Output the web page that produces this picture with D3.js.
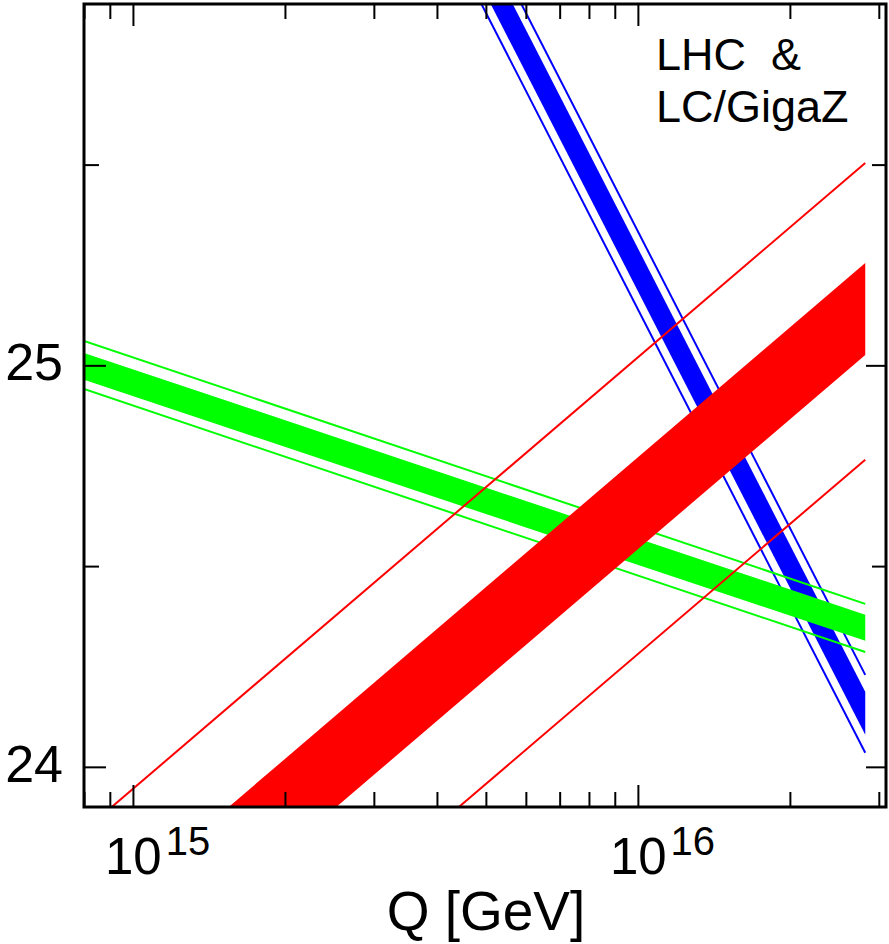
<!DOCTYPE html>
<html>
<head>
<meta charset="utf-8">
<script src="https://cdn.jsdelivr.net/npm/d3@7"></script>
<style>
  html, body { margin: 0; padding: 0; background: #fff; }
  text { font-family: "Liberation Sans", Arial, sans-serif; fill: #000; }
</style>
</head>
<body>
<div id="chart"></div>
<script>
const bandQ = [8e14, 2.82e16];

// 1/alpha values at bandQ ends: filled band (hi/lo) and outer lines (hi/lo)
const greenFillHi = [25.031, 24.379];
const greenFillLo = [24.964, 24.314];
const greenLineHi = [25.061, 24.406];
const greenLineLo = [24.941, 24.286];

const blueFillHi = [27.983, 24.187];
const blueFillLo = [27.876, 24.080];
const blueLineHi = [28.025, 24.229];
const blueLineLo = [27.831, 24.035];

const redFillHi = [23.592, 25.255];
const redFillLo = [23.363, 25.026];
const redLineHi = [23.841, 25.504];
const redLineLo = [23.102, 24.765];

// ticks
const xMajor = [1e15, 1e16];
const xMinor = [8e14, 9e14, 2e15, 3e15, 4e15, 5e15, 6e15, 7e15, 8e15, 9e15, 2e16, 3e16];
const xLabels = [["10", "15"], ["10", "16"]];
const yMajor = [24, 25];
const yMinor = [24.5, 25.5];

const width = 889;
const height = 944;
const plotL = 84, plotR = 886, plotT = 4, plotB = 807;

const x = d3.scaleLog().domain([8e14, 3.1e16]).range([plotL, plotR]);
const y = d3.scaleLinear().domain([23.9, 25.9]).range([plotB, plotT]);

const svg = d3.select('#chart')
  .append('svg')
  .attr('width', width)
  .attr('height', height);

svg.append('clipPath').attr('id', 'plot')
  .append('rect')
  .attr('x', plotL).attr('y', plotT)
  .attr('width', plotR - plotL).attr('height', plotB - plotT);

const layer = svg.append('g').attr('clip-path', 'url(#plot)');

function pts(vals) {
  return bandQ.map((q, i) => ({ q: q, v: vals[i] }));
}

const area = d3.area()
  .x(d => x(d.q))
  .y0(d => y(d.lo))
  .y1(d => y(d.hi));

const line = d3.line()
  .x(d => x(d.q))
  .y(d => y(d.v));

// draw order: blue, green, red (red sits on top)
const bands = [
  { colour: '#0000ff', fillHi: blueFillHi, fillLo: blueFillLo, lineHi: blueLineHi, lineLo: blueLineLo },
  { colour: '#00ff00', fillHi: greenFillHi, fillLo: greenFillLo, lineHi: greenLineHi, lineLo: greenLineLo },
  { colour: '#ff0000', fillHi: redFillHi, fillLo: redFillLo, lineHi: redLineHi, lineLo: redLineLo }
];

bands.forEach(b => {
  const g = layer.append('g');
  g.append('path')
    .attr('d', area(bandQ.map((q, i) => ({ q: q, hi: b.fillHi[i], lo: b.fillLo[i] }))))
    .attr('fill', b.colour);
  [b.lineHi, b.lineLo].forEach(vals => {
    g.append('path')
      .attr('d', line(pts(vals)))
      .attr('fill', 'none')
      .attr('stroke', b.colour)
      .attr('stroke-width', 2);
  });
});

// ticks, pointing inward on all four sides
function tickAxis(axis, transform) {
  const g = svg.append('g').attr('transform', transform).call(axis);
  g.select('.domain').remove();
  g.selectAll('.tick line').attr('stroke', '#000').attr('stroke-width', 2);
  g.selectAll('.tick text').remove();
}

tickAxis(d3.axisBottom(x).tickValues(xMinor).tickSize(-15), `translate(0,${plotB})`);
tickAxis(d3.axisBottom(x).tickValues(xMajor).tickSize(-22), `translate(0,${plotB})`);
tickAxis(d3.axisTop(x).tickValues(xMinor).tickSize(-15), `translate(0,${plotT})`);
tickAxis(d3.axisTop(x).tickValues(xMajor).tickSize(-22), `translate(0,${plotT})`);
tickAxis(d3.axisLeft(y).tickValues(yMinor).tickSize(-15), `translate(${plotL},0)`);
tickAxis(d3.axisLeft(y).tickValues(yMajor).tickSize(-22), `translate(${plotL},0)`);
tickAxis(d3.axisRight(y).tickValues(yMinor).tickSize(-14), `translate(${plotR},0)`);
tickAxis(d3.axisRight(y).tickValues(yMajor).tickSize(-20), `translate(${plotR},0)`);

// frame
svg.append('rect')
  .attr('x', plotL).attr('y', plotT)
  .attr('width', plotR - plotL).attr('height', plotB - plotT)
  .attr('fill', 'none')
  .attr('stroke', '#000')
  .attr('stroke-width', 3);

// y tick labels
svg.selectAll('.ylab')
  .data(yMajor)
  .enter()
  .append('text')
  .attr('x', 63)
  .attr('y', d => y(d) + 15)
  .attr('text-anchor', 'end')
  .style('font-size', '52px')
  .text(d => d);

// x tick labels, "10" centred on the tick with the exponent raised
xMajor.forEach((q, i) => {
  const t = svg.append('text')
    .attr('x', x(q) - 28)
    .attr('y', 874)
    .style('font-size', '51px');
  t.append('tspan').text(xLabels[i][0]);
  t.append('tspan')
    .attr('dx', 4)
    .attr('dy', -19)
    .style('font-size', '40px')
    .text(xLabels[i][1]);
});

// axis title
svg.append('text')
  .attr('x', 486)
  .attr('y', 930)
  .attr('text-anchor', 'middle')
  .style('font-size', '55px')
  .text('Q [GeV]');

// annotation
svg.append('text')
  .attr('x', 656)
  .attr('y', 70)
  .style('font-size', '45px')
  .style('white-space', 'pre')
  .text('LHC  &');
svg.append('text')
  .attr('x', 656)
  .attr('y', 122)
  .style('font-size', '45px')
  .text('LC/GigaZ');
</script>
</body>
</html>
